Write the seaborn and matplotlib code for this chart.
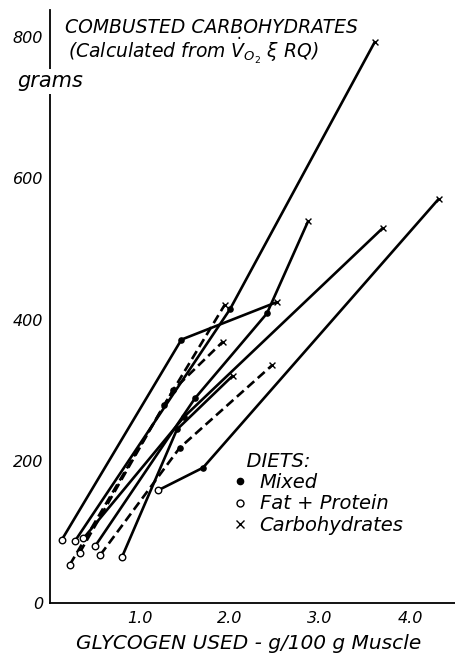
"""
Combusted carbohydrates vs glycogen used
"""

import pandas as pd
import matplotlib.pyplot as plt
from matplotlib.lines import Line2D
import seaborn as sns

# one row per experiment: points go fat+protein -> mixed -> carbohydrates
exp_ids = ['A', 'B', 'C', 'D', 'E', 'F', 'G', 'H', 'I']
dashed = [False, False, False, False, False, False, True, True, True]
glycogen = [
    [0.13, 1.46, 2.52],
    [0.28, 2.00, 3.61],
    [0.37, 1.49, 3.70],
    [1.20, 1.70, 4.32],
    [0.80, 1.41, 2.03],
    [0.50, 1.61, 2.41, 2.87],
    [0.33, 1.27, 1.94],
    [0.22, 1.37, 1.92],
    [0.56, 1.44, 2.47],
]
grams = [
    [89, 372, 425],
    [88, 415, 793],
    [91, 263, 530],
    [159, 191, 571],
    [65, 245, 321],
    [80, 289, 409, 540],
    [71, 280, 421],
    [54, 301, 369],
    [68, 219, 336],
]
diets = [
    ['Fat + Protein', 'Mixed', 'Carbohydrates'],
    ['Fat + Protein', 'Mixed', 'Carbohydrates'],
    ['Fat + Protein', 'Mixed', 'Carbohydrates'],
    ['Fat + Protein', 'Mixed', 'Carbohydrates'],
    ['Fat + Protein', 'Mixed', 'Carbohydrates'],
    ['Fat + Protein', 'Mixed', 'Mixed', 'Carbohydrates'],
    ['Fat + Protein', 'Mixed', 'Carbohydrates'],
    ['Fat + Protein', 'Mixed', 'Carbohydrates'],
    ['Fat + Protein', 'Mixed', 'Carbohydrates'],
]
x_ticks = [1.0, 2.0, 3.0, 4.0]
y_ticks = [0, 100, 200, 300, 400, 500, 600, 700, 800]
y_labels = ['0', '', '200', '', '400', '', '600', '', '800']

rows = []
for e, d, xs, ys, ds in zip(exp_ids, dashed, glycogen, grams, diets):
    for x, y, diet in zip(xs, ys, ds):
        rows.append({'exp': e, 'dashed': d, 'glycogen': x, 'grams': y, 'diet': diet})
data = pd.DataFrame(rows)

sns.set_style('white')
plt.rcParams['font.family'] = ['DejaVu Sans']

fig = plt.figure(figsize=(4.55, 6.56), dpi=100)
ax = fig.add_axes([0.110, 0.081, 0.89, 0.904])

sns.lineplot(data=data, x='glycogen', y='grams', units='exp', estimator=None, sort=False,
             style='dashed', style_order=[False, True], dashes=[(1, 0), (3.5, 1.8)],
             color='black', linewidth=1.9, legend=False, ax=ax)

fp = data[data['diet'] == 'Fat + Protein']
mx = data[data['diet'] == 'Mixed']
cb = data[data['diet'] == 'Carbohydrates']
ax.scatter(fp['glycogen'], fp['grams'], s=22, facecolor='white', edgecolor='black', linewidth=1.0, zorder=5)
ax.scatter(mx['glycogen'], mx['grams'], s=14, color='black', zorder=5)
ax.scatter(cb['glycogen'], cb['grams'], s=18, marker='x', color='black', linewidth=1.0, zorder=5)

ax.set_xlim(0, 4.5)
ax.set_ylim(0, 838)
sns.despine(ax=ax)
for s in ['left', 'bottom']:
    ax.spines[s].set_color('black')
    ax.spines[s].set_linewidth(1.3)

ax.set_xticks(x_ticks)
ax.set_xticklabels([f'{t:.1f}' for t in x_ticks], fontsize=11.5, style='italic')
ax.set_yticks(y_ticks)
ax.set_yticklabels(y_labels, fontsize=11.5, style='italic')
ax.tick_params(direction='in', length=5, width=1.2, color='black', labelcolor='black')
ax.tick_params(axis='x', pad=6)
ax.tick_params(axis='y', pad=5)
ax.set_xlabel('')
ax.set_ylabel('')

tf = dict(style='italic', color='black')
fig.text(0.143, 0.958, 'COMBUSTED CARBOHYDRATES', fontsize=13.5, va='center', **tf)
fig.text(0.150, 0.922, r'(Calculated from $\dot{V}_{O_2}$ ξ RQ)', fontsize=13.5, va='center', **tf)
fig.text(0.038, 0.867, 'grams', fontsize=15, va='baseline',
         bbox=dict(facecolor='white', edgecolor='none', pad=2), **tf)

handles = [
    Line2D([], [], marker='o', markersize=4.5, color='black', linestyle='none'),
    Line2D([], [], marker='o', markersize=5, markerfacecolor='white', markeredgecolor='black',
           markeredgewidth=1.0, linestyle='none'),
    Line2D([], [], marker='x', markersize=6, color='black', markeredgewidth=1.0, linestyle='none'),
]
leg = ax.legend(handles, ['Mixed', 'Fat + Protein', 'Carbohydrates'], title='  DIETS:',
                loc='upper left', bbox_to_anchor=(0.455, 0.255), frameon=False,
                handlelength=0.6, handletextpad=0.7, labelspacing=0.12, borderpad=0,
                borderaxespad=0, alignment='left',
                prop={'size': 14, 'style': 'italic'},
                title_fontproperties={'size': 14, 'style': 'italic'})
for t in leg.get_texts():
    t.set_color('black')
leg.get_title().set_color('black')

fig.text(0.547, 0.019, 'GLYCOGEN USED - g/100 g Muscle', fontsize=14.5, ha='center', va='center', **tf)

fig.savefig('out.png', dpi=100)
